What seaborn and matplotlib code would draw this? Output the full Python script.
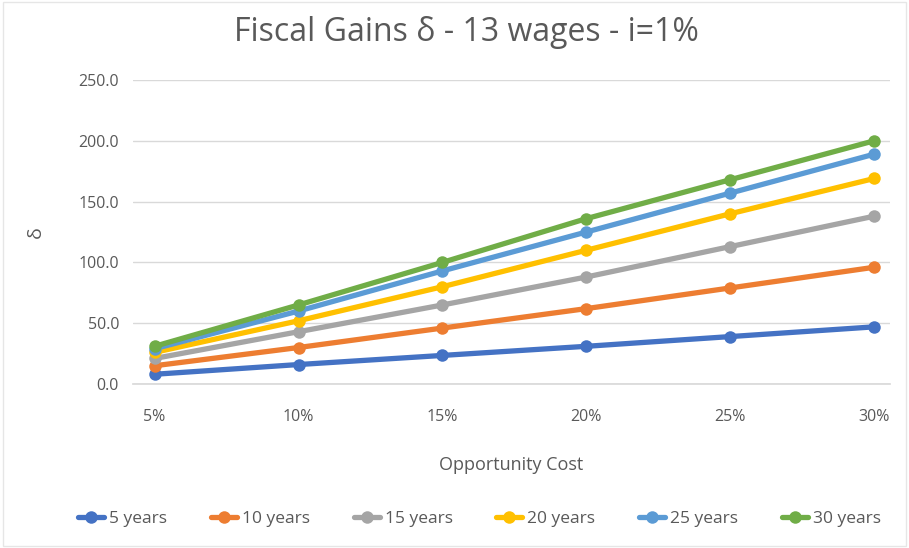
import matplotlib
matplotlib.use("Agg")
import matplotlib.pyplot as plt
import seaborn as sns
import pandas as pd
import numpy as np

costs = ["5%", "10%", "15%", "20%", "25%", "30%"]
series_names = ["5 years", "10 years", "15 years", "20 years", "25 years", "30 years"]
y5 = [8, 16, 23.5, 31, 39, 47]
y10 = [15, 30, 46, 62, 79, 96]
y15 = [21, 43, 65, 88, 113, 138]
y20 = [26, 52, 80, 110, 140, 169]
y25 = [29, 60, 93, 125, 157, 189]
y30 = [31, 65, 100, 136, 168, 200]
colors = ["#4472C4", "#ED7D31", "#A5A5A5", "#FFC000", "#5B9BD5", "#70AD47"]

rows = []
for name, vals in zip(series_names, [y5, y10, y15, y20, y25, y30]):
    for i, (c, v) in enumerate(zip(costs, vals)):
        rows.append({"pos": i, "cost": c, "delta": v, "series": name})
df = pd.DataFrame(rows)

sns.set_theme(style="white")
plt.rcParams["font.family"] = ["Open Sans", "DejaVu Sans"]
txt = "#595959"

fig = plt.figure(figsize=(9.09, 5.48), dpi=100)
ax = fig.add_axes([133/909, 1-384/548, (890-133)/909, (384-80)/548])

sns.lineplot(data=df, x="pos", y="delta", hue="series", hue_order=series_names,
             palette=colors, marker="o", markersize=9, markeredgewidth=0,
             linewidth=3.8, ax=ax, legend=True)

ax.set_xlim(-0.15, 5.11)
ax.set_ylim(0, 250)
ax.set_xticks(range(len(costs)))
ax.set_xticklabels(costs)
ax.set_yticks(np.arange(0, 251, 50))
ax.set_yticklabels([f"{v:.1f}" for v in np.arange(0, 251, 50)])
ax.tick_params(axis="x", colors=txt, labelsize=11.5, length=0, pad=18)
ax.tick_params(axis="y", colors=txt, labelsize=11.5, length=0, pad=10)
ax.grid(axis="y", color="#D9D9D9", linewidth=1)
ax.set_axisbelow(True)
for s in ["top", "right", "left"]:
    ax.spines[s].set_visible(False)
ax.spines["bottom"].set_color("#D9D9D9")
ax.set_xlabel("Opportunity Cost", color=txt, fontsize=13, labelpad=22)
ax.set_ylabel("δ", color=txt, fontsize=14, labelpad=24)

fig.suptitle("Fiscal Gains δ - 13 wages - i=1%", x=0.513, y=0.97, color=txt, fontsize=23)

handles, labels = ax.get_legend_handles_labels()
ax.legend(handles, labels, loc="center", bbox_to_anchor=(0.5 - 32/757, -0.445),
          ncol=6, frameon=False, fontsize=12.5, labelcolor=txt,
          handlelength=1.5, columnspacing=2.5, handletextpad=0.3)

fig.patches.append(plt.Rectangle((0.003, 0.003), 0.994, 0.994, transform=fig.transFigure,
                                 fill=False, edgecolor="#E6E6E6", linewidth=1))
fig.savefig("out.png", dpi=100)
